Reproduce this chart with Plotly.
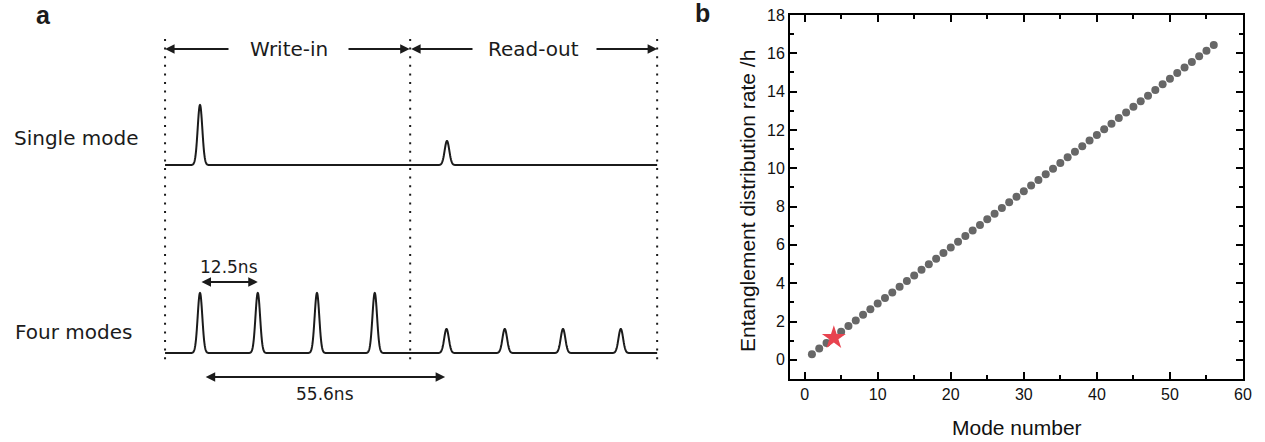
import numpy as np
import plotly.graph_objects as go

# ---------------- data ----------------
# panel b : entanglement distribution rate vs mode number
mode_number = list(range(1, 57))
rate_per_hour = [0.29, 0.59, 0.88, 1.17, 1.47, 1.76, 2.05, 2.35, 2.64, 2.94,
                 3.23, 3.52, 3.82, 4.11, 4.40, 4.70, 4.99, 5.28, 5.58, 5.87,
                 6.16, 6.46, 6.75, 7.04, 7.34, 7.63, 7.92, 8.22, 8.51, 8.80,
                 9.10, 9.39, 9.69, 9.98, 10.27, 10.57, 10.86, 11.15, 11.45, 11.74,
                 12.03, 12.33, 12.62, 12.91, 13.21, 13.50, 13.79, 14.09, 14.38, 14.67,
                 14.97, 15.26, 15.55, 15.85, 16.14, 16.43]
star_mode = [4]
star_rate = [1.15]
x_title = "Mode number"
y_title = "Entanglement distribution rate /h"

# panel a : schematic pulse trains (times in ns, amplitudes relative)
window_edges_ns = [-7.5, 45.1, 98.1]
single_write_t = [0.0]
single_read_t = [53.0]
four_write_t = [0.0, 12.4, 25.1, 37.5]
four_read_t = [52.9, 65.4, 77.9, 90.3]
write_amp = 1.0
read_amp = 0.4
pulse_sigma_ns = 0.5
spacing_label = "12.5ns"
delay_label = "55.6ns"
spacing_arrow_ns = [0.0, 12.4]
delay_arrow_ns = [0.9, 52.6]

# ---------------- layout geometry ----------------
W, H = 1265, 442
PX_PER_NS = 4.66
T0_PX = 200.0
x2_range = [-T0_PX / PX_PER_NS, (W - T0_PX) / PX_PER_NS]
ROW_SINGLE = 165.0
ROW_FOUR = 353.0
PULSE_PX = 60.0
INK = "#1b1b1b"


def trace_row(write_t, read_t, base):
    t = np.arange(window_edges_ns[0], window_edges_ns[-1] + 1e-9, 0.02)
    s = np.zeros_like(t)
    for c in write_t:
        s += write_amp * np.exp(-(t - c) ** 2 / (2 * pulse_sigma_ns ** 2))
    for c in read_t:
        s += read_amp * np.exp(-(t - c) ** 2 / (2 * pulse_sigma_ns ** 2))
    return t, base - PULSE_PX * s


fig = go.Figure()

# dotted window separators
for e in window_edges_ns:
    fig.add_trace(go.Scatter(x=[e, e], y=[39, 360], mode="lines",
                             line=dict(color=INK, width=2, dash="2px,6.6px"),
                             xaxis="x2", yaxis="y2", showlegend=False, hoverinfo="skip"))

for wt, rt, base in [(single_write_t, single_read_t, ROW_SINGLE),
                     (four_write_t, four_read_t, ROW_FOUR)]:
    tt, yy = trace_row(wt, rt, base)
    fig.add_trace(go.Scatter(x=tt, y=yy, mode="lines",
                             line=dict(color=INK, width=2, simplify=False),
                             xaxis="x2", yaxis="y2", showlegend=False, hoverinfo="skip"))

# panel b data
fig.add_trace(go.Scatter(x=mode_number, y=rate_per_hour, mode="markers",
                         marker=dict(color="#676767", size=8),
                         xaxis="x", yaxis="y", showlegend=False))
fig.add_trace(go.Scatter(x=star_mode, y=star_rate, mode="markers",
                         marker=dict(color="#e8434f", size=18, symbol="star",
                                     line=dict(width=0)),
                         xaxis="x", yaxis="y", showlegend=False))

ann = []


def arrow(x_head, x_tail, y, both=False):
    d = dict(x=x_head, y=y, ax=x_tail, ay=y, xref="x2", yref="y2",
             axref="x2", ayref="y2", text="", showarrow=True,
             arrowhead=2, arrowsize=0.95, arrowwidth=2, arrowcolor=INK)
    if both:
        d.update(arrowside="end+start", startarrowhead=2, startarrowsize=0.95)
    ann.append(d)


# write-in / read-out arrows
ARR_Y = 49
w0, w1, w2 = window_edges_ns
arrow(w0, (230 - T0_PX) / PX_PER_NS, ARR_Y)
arrow(w1 - 0.1, (347 - T0_PX) / PX_PER_NS, ARR_Y)
arrow(w1 + 0.2, (474 - T0_PX) / PX_PER_NS, ARR_Y)
arrow(w2, (595 - T0_PX) / PX_PER_NS, ARR_Y)

arrow(spacing_arrow_ns[1], spacing_arrow_ns[0], 282, both=True)
arrow(delay_arrow_ns[1], delay_arrow_ns[0], 377, both=True)

txt_font = dict(family="DejaVu Sans", size=20, color=INK)
title_font = dict(family="Arial", size=21, color="#111")
ann += [
    dict(x=sum([w0, w1]) / 2 + 0.3, y=ARR_Y, xref="x2", yref="y2", text="Write-in",
         showarrow=False, font=txt_font, xanchor="center", yanchor="middle"),
    dict(x=sum([w1, w2]) / 2, y=ARR_Y, xref="x2", yref="y2", text="Read-out",
         showarrow=False, font=txt_font, xanchor="center", yanchor="middle"),
    dict(x=12 / W, y=1 - 138 / H, xref="paper", yref="paper", text="Single mode",
         showarrow=False, font=txt_font, xanchor="left", yanchor="middle"),
    dict(x=13 / W, y=1 - 332 / H, xref="paper", yref="paper", text="Four modes",
         showarrow=False, font=txt_font, xanchor="left", yanchor="middle"),
    dict(x=sum(spacing_arrow_ns) / 2, y=267, xref="x2", yref="y2", text=spacing_label,
         showarrow=False, font=dict(family="DejaVu Sans", size=17, color=INK),
         xanchor="center", yanchor="middle"),
    dict(x=sum(delay_arrow_ns) / 2, y=394, xref="x2", yref="y2", text=delay_label,
         showarrow=False, font=dict(family="DejaVu Sans", size=17, color=INK),
         xanchor="center", yanchor="middle"),
    dict(x=43 / W, y=1 - 15 / H, xref="paper", yref="paper", text="<b>a</b>",
         showarrow=False, font=dict(family="Arial", size=25, color=INK),
         xanchor="center", yanchor="middle"),
    dict(x=702 / W, y=1 - 13 / H, xref="paper", yref="paper", text="<b>b</b>",
         showarrow=False, font=dict(family="Arial", size=25, color=INK),
         xanchor="center", yanchor="middle"),
    # axis titles of panel b
    dict(x=1017 / W, y=1 - 427 / H, xref="paper", yref="paper", text=x_title,
         showarrow=False, font=title_font, xanchor="center", yanchor="middle"),
    dict(x=748 / W, y=1 - 201 / H, xref="paper", yref="paper", text=y_title,
         showarrow=False, font=title_font, xanchor="center", yanchor="middle",
         textangle=-90),
]

axis_common = dict(showline=True, linewidth=2, linecolor="black", mirror="ticks",
                   ticks="inside", ticklen=7, tickwidth=2, tickcolor="black",
                   showgrid=False, zeroline=False,
                   tickfont=dict(family="Arial", size=16, color="#111"))

fig.update_layout(
    width=W, height=H,
    margin=dict(l=0, r=0, t=0, b=0, autoexpand=False),
    paper_bgcolor="white", plot_bgcolor="rgba(0,0,0,0)",
    showlegend=False,
    annotations=ann,
    xaxis=dict(domain=[790 / W, 1243 / W], range=[-2, 60], tick0=0, dtick=10,
               minor=dict(dtick=5, ticklen=4, tickwidth=2, ticks="inside", tickcolor="black"),
               anchor="y", automargin=False, **axis_common),
    yaxis=dict(domain=[1 - 379 / H, 1 - 15 / H], range=[-1, 18], tick0=0, dtick=2,
               minor=dict(dtick=1, ticklen=4, tickwidth=2, ticks="inside", tickcolor="black"),
               anchor="x", automargin=False, **axis_common),
    xaxis2=dict(domain=[0, 1], range=x2_range, visible=False, anchor="y2"),
    yaxis2=dict(domain=[0, 1], range=[H, 0], visible=False, anchor="x2"),
)

fig.write_html("out.html",
               post_script="document.body.style.margin='0';document.body.style.padding='0';")
